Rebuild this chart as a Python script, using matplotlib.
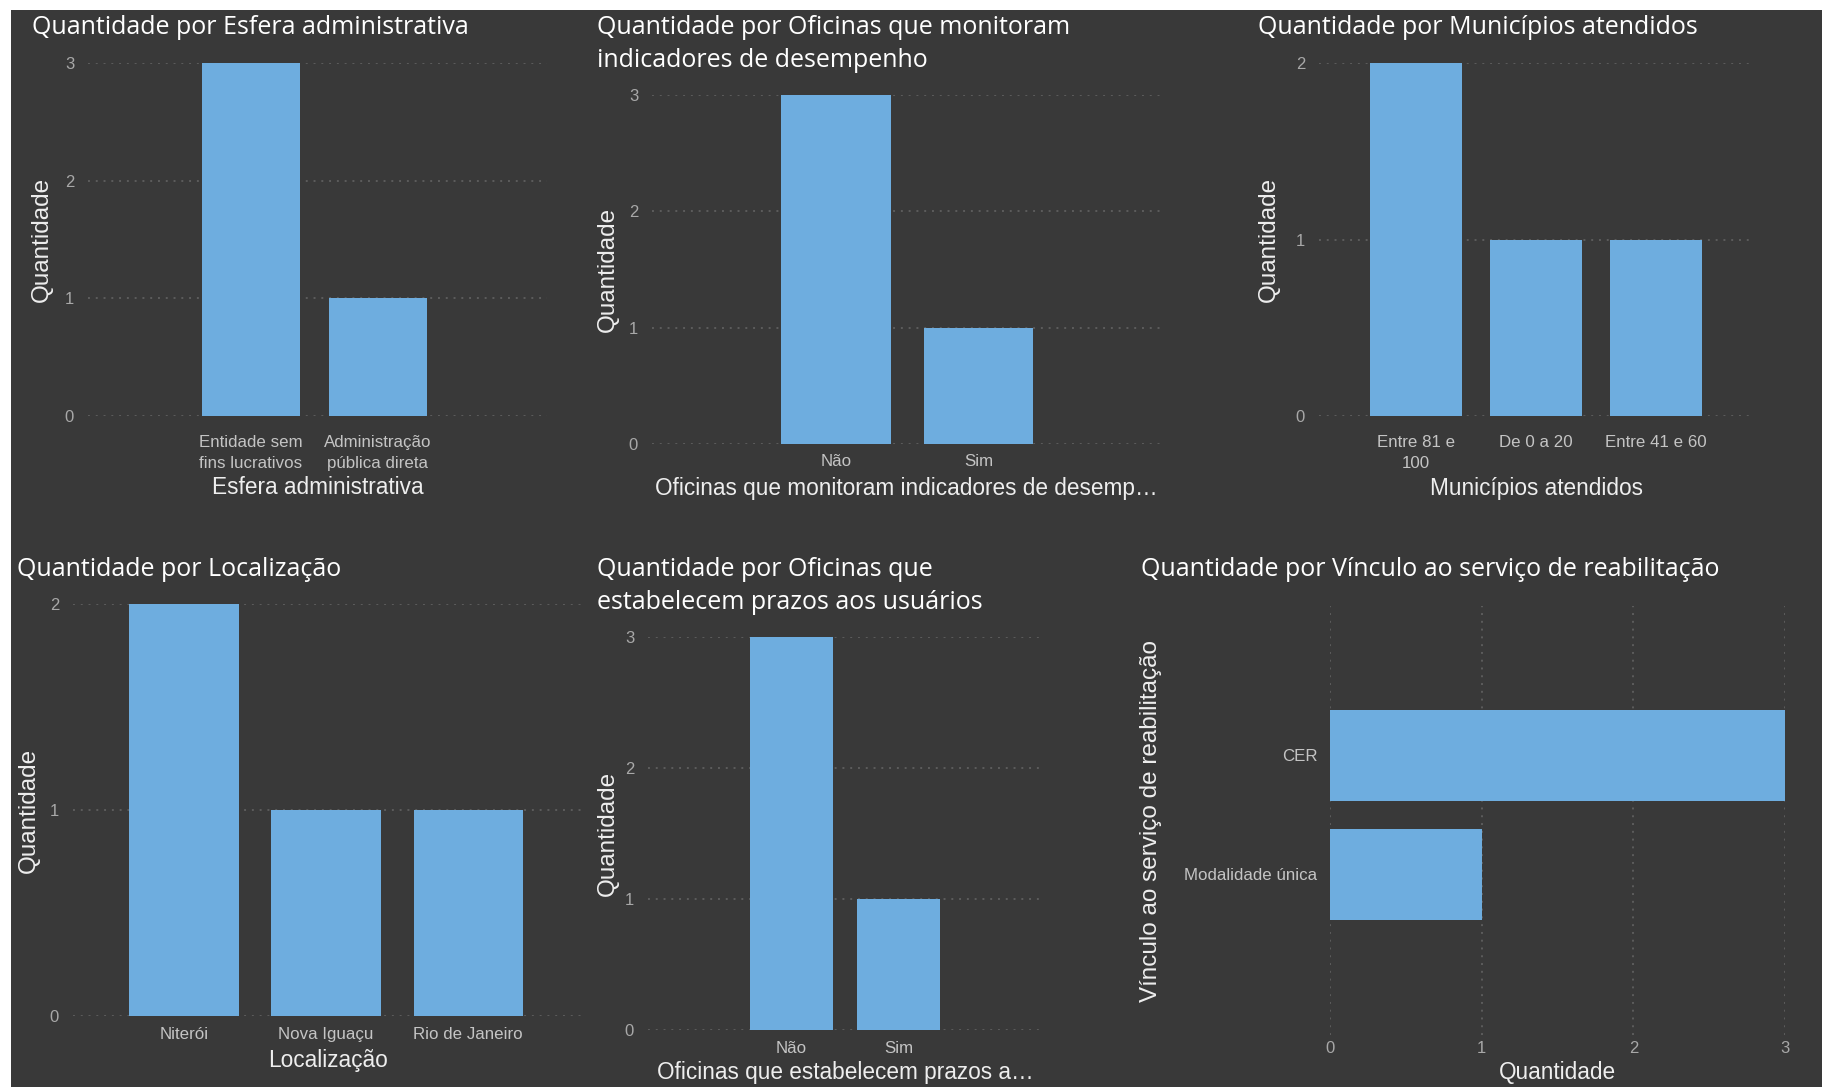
import matplotlib
matplotlib.use("Agg")
import matplotlib.pyplot as plt
from matplotlib.patches import Rectangle

plt.rcParams['font.family'] = ['Liberation Sans', 'DejaVu Sans']

esfera_cats = ['Entidade sem\nfins lucrativos', 'Administração\npública direta']
esfera_vals = [3, 1]

monitoram_cats = ['Não', 'Sim']
monitoram_vals = [3, 1]

municipios_cats = ['Entre 81 e\n100', 'De 0 a 20', 'Entre 41 e 60']
municipios_vals = [2, 1, 1]

local_cats = ['Niterói', 'Nova Iguaçu', 'Rio de Janeiro']
local_vals = [2, 1, 1]

prazos_cats = ['Não', 'Sim']
prazos_vals = [3, 1]

vinculo_cats = ['CER', 'Modalidade única']
vinculo_vals = [3, 1]

W, H = 1822, 1087
BG = '#393939'
BAR = '#6EADDF'
GRID = '#5c5c5c'
TICK = '#c4c4c4'
NUM = '#a8a8a8'
LABEL = '#eeeeee'
TITLE_FONT = ['Open Sans', 'DejaVu Sans']

fig = plt.figure(figsize=(W / 100, H / 100), dpi=100, facecolor='white')
fig.patches.append(Rectangle((11 / W, 0), 1 - 11 / W, (H - 10) / H,
                             transform=fig.transFigure, facecolor=BG,
                             edgecolor='none', zorder=-10))


def box(l, t, r, b):
    return [l / W, 1 - b / H, (r - l) / W, (b - t) / H]


def ftext(x, y, s, **kw):
    fig.text(x / W, 1 - y / H, s, **kw)


def style(ax):
    ax.set_facecolor('none')
    for sp in ax.spines.values():
        sp.set_visible(False)
    ax.set_axisbelow(True)


def vbar(pos, cats, vals, xlim, ymax, title, tx, ty, xlabel, xl_y, yl_x, xpad):
    l, t, r, b = pos
    ax = fig.add_axes(box(l, t, r, b))
    style(ax)
    x = list(range(len(cats)))
    ax.bar(x, vals, width=0.77, color=BAR, zorder=2)
    ax.set_xlim(*xlim)
    ax.set_ylim(0, ymax)
    ax.set_yticks(range(ymax + 1))
    ax.set_xticks(x)
    ax.set_xticklabels(cats, fontsize=12.2, color=TICK, linespacing=1.5)
    ax.tick_params(axis='y', length=0, pad=10, labelsize=12, labelcolor=NUM)
    ax.tick_params(axis='x', length=0, pad=xpad)
    ax.yaxis.grid(True, color=GRID, linestyle=(0, (1, 3)), linewidth=1.4)
    ftext(tx, ty, title, fontsize=18, color='white', va='top', ha='left',
          linespacing=1.4, family=TITLE_FONT)
    ftext((l + r) / 2, xl_y, xlabel, fontsize=16.3, color=LABEL,
          ha='center', va='center')
    ftext(yl_x, (t + b) / 2, 'Quantidade', fontsize=17.5, color=LABEL,
          ha='center', va='center', rotation=90)
    return ax


vbar((88, 63, 547, 416), esfera_cats, esfera_vals, (-1.28, 2.33), 3,
     'Quantidade por Esfera administrativa', 32, 15,
     'Esfera administrativa', 488, 42, 13.5)

vbar((652, 95, 1161, 444), monitoram_cats, monitoram_vals, (-1.29, 2.28), 3,
     'Quantidade por Oficinas que monitoram\nindicadores de desempenho', 597, 15,
     'Oficinas que monitoram indicadores de desemp…', 488, 608, 7)

vbar((1319, 63, 1753, 416), municipios_cats, municipios_vals, (-0.81, 2.81), 2,
     'Quantidade por Municípios atendidos', 1258, 15,
     'Municípios atendidos', 488, 1269, 13.5)

vbar((73, 604, 582, 1016), local_cats, local_vals, (-0.78, 2.80), 2,
     'Quantidade por Localização', 17, 557,
     'Localização', 1060, 29, 8)

vbar((648, 637, 1042, 1030), prazos_cats, prazos_vals, (-1.33, 2.33), 3,
     'Quantidade por Oficinas que\nestabelecem prazos aos usuários', 597, 557,
     'Oficinas que estabelecem prazos a…', 1073, 608, 8)

# barras horizontais
l, t, r, b = 1330, 606, 1785, 1035
ax = fig.add_axes(box(l, t, r, b))
style(ax)
y = list(range(len(vinculo_cats)))
ax.barh(y, vinculo_vals, height=0.765, color=BAR, zorder=2)
ax.set_xlim(0, 3)
ax.set_ylim(2.35, -1.256)
ax.set_xticks(range(4))
ax.set_yticks(y)
ax.set_yticklabels(vinculo_cats, fontsize=12.2, color=TICK)
ax.tick_params(axis='x', length=0, pad=4, labelsize=12, labelcolor=NUM)
ax.tick_params(axis='y', length=0, pad=9)
ax.xaxis.grid(True, color=GRID, linestyle=(0, (1, 3)), linewidth=1.4)
ftext(1141, 557, 'Quantidade por Vínculo ao serviço de reabilitação',
      fontsize=18, color='white', va='top', ha='left', family=TITLE_FONT)
ftext((l + r) / 2, 1072, 'Quantidade', fontsize=16.3, color=LABEL,
      ha='center', va='center')
ftext(1151, (t + b) / 2, 'Vínculo ao serviço de reabilitação', fontsize=17.5,
      color=LABEL, ha='center', va='center', rotation=90)

fig.savefig('out.png', dpi=100, facecolor=fig.get_facecolor())
